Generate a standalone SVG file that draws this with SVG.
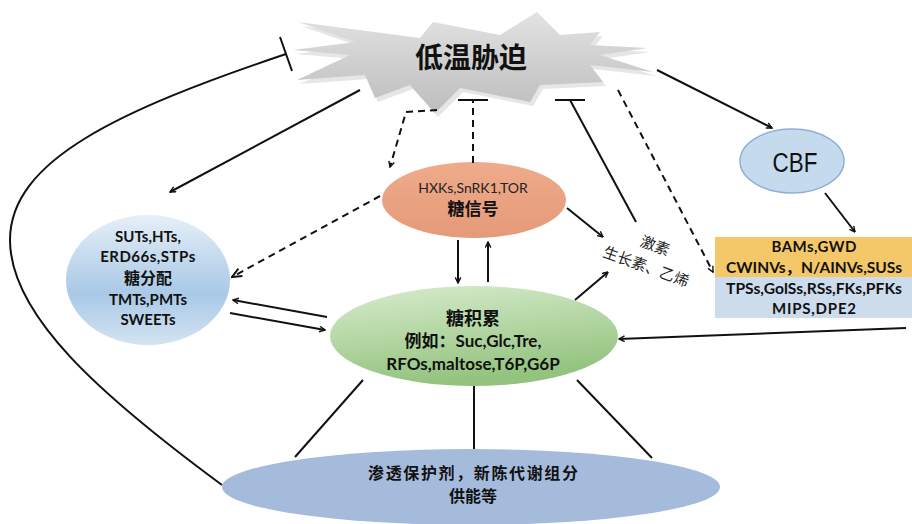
<svg xmlns="http://www.w3.org/2000/svg" width="912" height="524" viewBox="0 0 912 524">
<defs>
<linearGradient id="gStar" x1="0" y1="0" x2="0" y2="1"><stop offset="0" stop-color="#e2e2e2"/><stop offset="1" stop-color="#bdbdbd"/></linearGradient>
<linearGradient id="gBlue" x1="0" y1="0" x2="0" y2="1"><stop offset="0" stop-color="#e6eff8"/><stop offset="0.6" stop-color="#a9c9e6"/><stop offset="1" stop-color="#d3e3f2"/></linearGradient>
<linearGradient id="gGreen" x1="0" y1="0" x2="0.3" y2="1"><stop offset="0" stop-color="#d9ecce"/><stop offset="1" stop-color="#93c37e"/></linearGradient>
<linearGradient id="gOrange" x1="0" y1="0" x2="0" y2="1"><stop offset="0" stop-color="#eeab8b"/><stop offset="1" stop-color="#e59a78"/></linearGradient>
<marker id="arr" viewBox="0 0 10 10" refX="9" refY="5" markerWidth="7" markerHeight="7" orient="auto" markerUnits="userSpaceOnUse"><path d="M1,1 L9,5 L1,9" fill="none" stroke="#111" stroke-width="2"/></marker>
<marker id="arrS" viewBox="0 0 10 10" refX="9" refY="5" markerWidth="12" markerHeight="12" orient="auto" markerUnits="userSpaceOnUse"><path d="M1,1.5 L9,5 L1,8.5" fill="none" stroke="#111" stroke-width="1.6"/></marker>
</defs>
<style>
.ln{fill:none;stroke:#111;stroke-width:2}
.dash{fill:none;stroke:#111;stroke-width:2;stroke-dasharray:7 5}
.cn{font-family:"Noto Sans CJK SC",sans-serif;font-weight:bold;fill:#111;text-anchor:middle}
.lt{font-family:Lato,"Open Sans","Liberation Sans",sans-serif;font-weight:bold;fill:#111;text-anchor:middle}
</style>
<rect width="912" height="524" fill="#fff"/>

<g id="star">
<polygon points="296,54 353,59 300,84 368,79 378,102 413,89 438,117 463,92 533,106 543,89 606,86 593,69 656,76 603,59 651,52 593,49 603,36 563,39 540,16 503,39 436,26 423,42 301,26 358,46" fill="#dcdcdc" opacity="0.7"/>
<polygon points="293,50 350,55 297,80 365,75 375,98 410,85 435,113 460,88 530,102 540,85 603,82 590,65 653,72 600,55 648,48 590,45 600,32 560,35 537,12 500,35 433,22 420,38 298,22 355,42" fill="url(#gStar)"/>
<text x="471" y="68" class="cn" font-size="28" fill="#000">低温胁迫</text>
</g>

<g id="sugar-signal">
<ellipse cx="474" cy="200" rx="92" ry="38" fill="url(#gOrange)"/>
<text x="473" y="193" font-family="Lato,'Open Sans',sans-serif" font-size="14" fill="#222" text-anchor="middle">HXKs,SnRK1,TOR</text>
<text x="473" y="215" class="cn" font-size="17">糖信号</text>
</g>

<g id="sugar-distribution">
<ellipse cx="148" cy="280" rx="82" ry="65" fill="url(#gBlue)"/>
<text x="148" y="242" class="lt" font-size="15">SUTs,HTs,</text>
<text x="148" y="262" class="lt" font-size="15" letter-spacing="0.5">ERD66s,STPs</text>
<text x="148" y="284" class="cn" font-size="16">糖分配</text>
<text x="148" y="305" class="lt" font-size="15">TMTs,PMTs</text>
<text x="148" y="325" class="lt" font-size="15">SWEETs</text>
</g>

<g id="sugar-accumulation">
<ellipse cx="474" cy="336" rx="144" ry="50" fill="url(#gGreen)"/>
<text x="473" y="325" class="cn" font-size="18">糖积累</text>
<text x="473" y="347" font-size="17" fill="#111" text-anchor="middle" font-weight="bold"><tspan font-family="Noto Sans CJK SC,sans-serif">例如：</tspan><tspan font-family="Lato,'Open Sans',sans-serif">Suc,Glc,Tre,</tspan></text>
<text x="473" y="370" class="lt" font-size="17">RFOs,maltose,T6P,G6P</text>
</g>

<g id="osmo">
<ellipse cx="471" cy="487" rx="249" ry="38" fill="#a5bbdc"/>
<text x="473" y="479" class="cn" font-size="16" textLength="210">渗透保护剂，新陈代谢组分</text>
<text x="473" y="502" class="cn" font-size="16">供能等</text>
</g>

<g id="cbf">
<ellipse cx="792" cy="161" rx="52" ry="32" fill="#c6daee" stroke="#8eb0d6" stroke-width="1.5"/>
<text x="0" y="0" font-family="'Liberation Sans',sans-serif" font-size="28" fill="#111" text-anchor="middle" transform="translate(795 172) scale(0.8 1)">CBF</text>
</g>

<g id="genes">
<rect x="715" y="237" width="197" height="40" fill="#f4c869"/>
<rect x="715" y="277" width="197" height="41" fill="#ccdcec"/>
<text x="814" y="252" class="lt" font-size="15" textLength="85">BAMs,GWD</text>
<text x="814" y="273" font-size="15" fill="#111" text-anchor="middle" font-weight="bold" font-family="Lato,'Open Sans','Noto Sans CJK SC',sans-serif" textLength="176" lengthAdjust="spacingAndGlyphs">CWINVs，N/AINVs,SUSs</text>
<text x="814" y="294" class="lt" font-size="15" textLength="176" lengthAdjust="spacingAndGlyphs">TPSs,GolSs,RSs,FKs,PFKs</text>
<text x="814" y="314" class="lt" font-size="15" textLength="84">MIPS,DPE2</text>
</g>

<g id="hormones">
<text x="655" y="251" font-family="'Noto Sans CJK SC',sans-serif" font-size="15" fill="#222" text-anchor="middle" transform="rotate(20 655 246)">激素</text>
<text x="646" y="272" font-family="'Noto Sans CJK SC',sans-serif" font-size="15" fill="#222" text-anchor="middle" transform="rotate(20 646 267)">生长素、乙烯</text>
</g>

<g id="connectors">
<path class="ln" d="M222,485 C100,395 10,315 10,240 C10,160 120,110 286,54"/>
<line class="ln" x1="280" y1="37" x2="292" y2="71"/>
<line class="ln" x1="657" y1="70" x2="772" y2="128" marker-end="url(#arr)"/>
<line class="ln" x1="825" y1="193" x2="855" y2="232" marker-end="url(#arr)"/>
<line class="ln" x1="360" y1="90" x2="170" y2="192" marker-end="url(#arr)"/>
<path class="dash" d="M437,110 L406,112 L390,167" marker-end="url(#arr)"/>
<line class="dash" x1="473" y1="163" x2="473" y2="100"/>
<line class="ln" x1="458" y1="100" x2="488" y2="100"/>
<line class="ln" x1="570" y1="100" x2="636" y2="222"/>
<line class="ln" x1="555" y1="100" x2="585" y2="100"/>
<line class="dash" x1="618" y1="90" x2="713" y2="272" marker-end="url(#arr)"/>
<line class="ln" x1="567" y1="208" x2="603" y2="237" marker-end="url(#arr)"/>
<line class="ln" x1="575" y1="300" x2="608" y2="272" marker-end="url(#arr)"/>
<line class="dash" x1="380" y1="196" x2="232" y2="277" marker-end="url(#arrS)"/>
<line class="ln" x1="327" y1="317" x2="233" y2="300" marker-end="url(#arr)"/>
<line class="ln" x1="230" y1="313" x2="325" y2="330" marker-end="url(#arr)"/>
<line class="ln" x1="458" y1="240" x2="458" y2="283" marker-end="url(#arr)"/>
<line class="ln" x1="488" y1="282" x2="488" y2="242" marker-end="url(#arr)"/>
<line class="ln" x1="906" y1="328" x2="619" y2="339" marker-end="url(#arr)"/>
<line class="ln" x1="363" y1="380" x2="295" y2="457"/>
<line class="ln" x1="474" y1="386" x2="474" y2="449"/>
<line class="ln" x1="577" y1="380" x2="652" y2="458"/>
</g>
</svg>
